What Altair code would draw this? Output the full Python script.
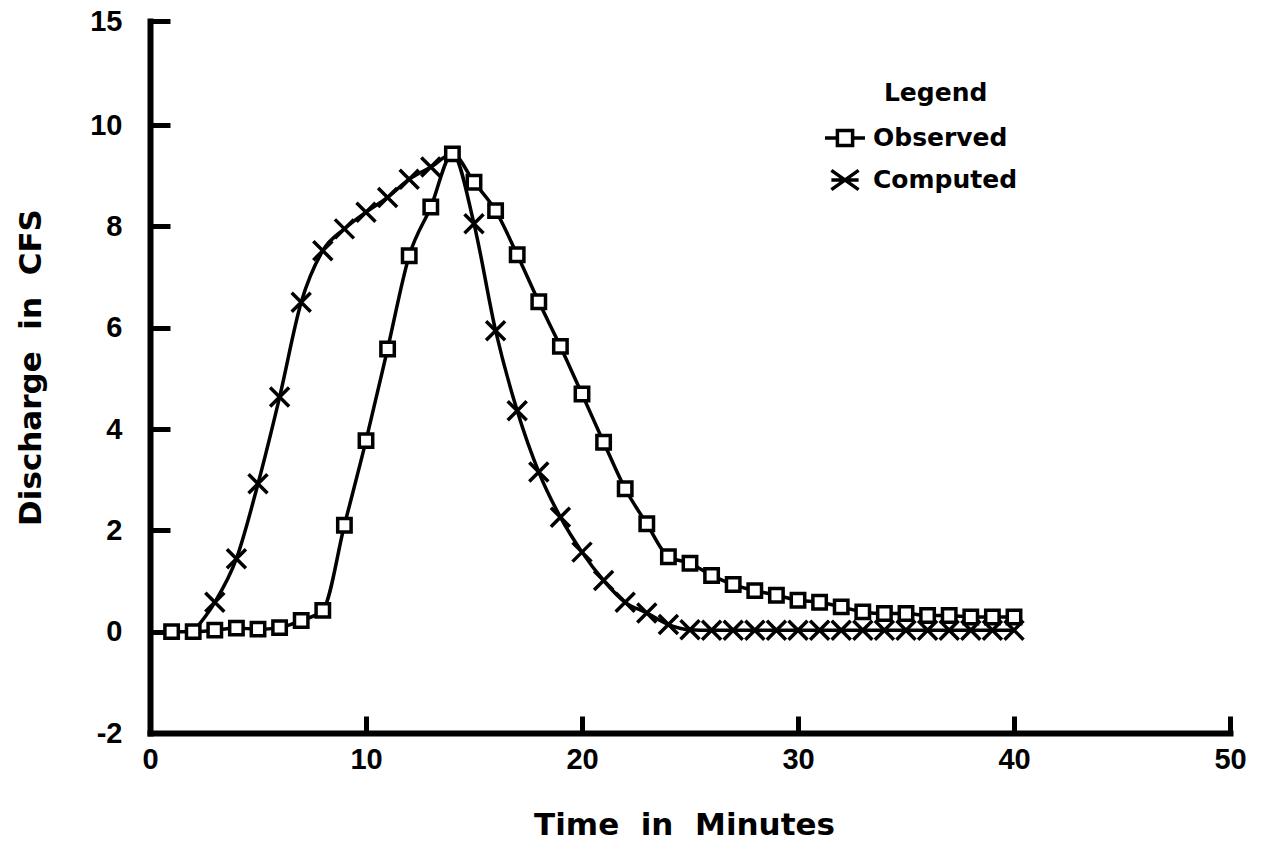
import altair as alt
import pandas as pd

# ---- data ----
obs_t = list(range(1, 41))
observed = [0.00, 0.00, 0.03, 0.07, 0.05, 0.08, 0.22, 0.42, 2.10, 3.77,
            5.58, 7.42, 8.38, 9.43, 8.87, 8.31, 7.44, 6.51, 5.63, 4.69,
            3.74, 2.82, 2.13, 1.48, 1.35, 1.11, 0.93, 0.81, 0.72, 0.62,
            0.58, 0.49, 0.39, 0.36, 0.36, 0.32, 0.32, 0.29, 0.29, 0.29]

comp_t = list(range(2, 41))
computed = [0.00, 0.58, 1.44, 2.92, 4.63, 6.50, 7.52, 7.95, 8.28, 8.57,
            8.93, 9.17, 9.43, 8.05, 5.94, 4.36, 3.15, 2.26, 1.57, 1.01,
            0.58, 0.37, 0.14, 0.04, 0.03, 0.03, 0.03, 0.03, 0.03, 0.03,
            0.03, 0.03, 0.03, 0.03, 0.03, 0.03, 0.03, 0.03, 0.03]

series_names = ["Observed", "Computed"]
x_ticks = [0, 10, 20, 30, 40, 50]
y_ticks = [-2, 0, 2, 4, 6, 8, 10, 15]

obs_df = pd.DataFrame({"t": obs_t, "v": observed, "series": "Observed"})
comp_df = pd.DataFrame({"t": comp_t, "v": computed, "series": "Computed"})
all_df = pd.concat([obs_df, comp_df], ignore_index=True)
leg_df = pd.DataFrame({"series": series_names})

W, H = 1080, 712
LAB_FONT = "Liberation Sans"
TXT_FONT = "DejaVu Sans"

X_SCALE = alt.Scale(domain=[0, 50], nice=False, zero=False)
# broken axis: -2..10 linear, 10..15 compressed
Y_SCALE = alt.Scale(domain=[-2, 10, 15], range=[H, 104, 0], nice=False, zero=False)

x_main = alt.X(
    "t:Q", scale=X_SCALE, title="Time\u00a0\u00a0in\u00a0\u00a0Minutes",
    axis=alt.Axis(orient="bottom", values=x_ticks, ticks=False, tickSize=0,
                  domain=True, domainColor="black", domainWidth=6, domainCap="square",
                  labelFont=LAB_FONT, labelFontSize=29, labelFontWeight="bold",
                  labelColor="black", labelPadding=12, labelFlush=False, grid=False,
                  titleFont=TXT_FONT, titleFontSize=31, titleFontWeight="bold",
                  titleColor="black", titlePadding=36, titleX=534))
y_main = alt.Y(
    "v:Q", scale=Y_SCALE, title="Discharge\u00a0\u00a0in\u00a0\u00a0CFS",
    axis=alt.Axis(orient="left", values=y_ticks, ticks=False, tickSize=0,
                  domain=True, domainColor="black", domainWidth=6, domainCap="square",
                  labelFont=LAB_FONT, labelFontSize=29, labelFontWeight="bold",
                  labelColor="black", labelPadding=28, labelFlush=False, grid=False,
                  labelExpr="'' + datum.value",
                  titleFont=TXT_FONT, titleFontSize=31, titleFontWeight="bold",
                  titleColor="black", titlePadding=42, titleY=346))

x_tickaxis = alt.X(
    "t:Q", scale=X_SCALE, title=None,
    axis=alt.Axis(orient="top", offset=-H, values=x_ticks[1:], ticks=True, tickSize=17,
                  tickWidth=5, tickColor="black", labels=False, domain=False, grid=False))
y_tickaxis = alt.Y(
    "v:Q", scale=Y_SCALE, title=None,
    axis=alt.Axis(orient="right", offset=-W, values=y_ticks[1:], ticks=True, tickSize=20,
                  tickWidth=5, tickColor="black", labels=False, domain=False, grid=False))

lines = alt.Chart(all_df).mark_line(
    color="black", strokeWidth=3.5, interpolate="monotone"
).encode(x=x_main, y=y_main, detail="series:N", order="t:Q")

x_marks = alt.Chart(comp_df).transform_filter(
    "datum.t >= 3 && datum.t != 14"
).mark_point(
    shape="M-1,-1L1,1M-1,1L1,-1", size=361, filled=False, color="black",
    strokeWidth=3.5, opacity=1
).encode(x=x_tickaxis, y=y_tickaxis)

squares = alt.Chart(obs_df).mark_point(
    shape="square", size=180, fill="white", stroke="black", strokeWidth=3.5,
    opacity=1, fillOpacity=1
).encode(x=alt.X("t:Q", scale=X_SCALE, axis=None),
         y=alt.Y("v:Q", scale=Y_SCALE, axis=None))

p_obs = "M-1,0H-0.38M-0.38,-0.38H0.38V0.38H-0.38ZM0.38,0H1"
p_comp = "M-0.68,-0.48L0.68,0.48M-0.68,0.48L0.68,-0.48M-0.68,0H0.68"

legend_layer = alt.Chart(leg_df).mark_point(
    opacity=0, filled=False, color="black", strokeWidth=3.5
).encode(
    shape=alt.Shape(
        "series:N",
        scale=alt.Scale(domain=series_names, range=[p_obs, p_comp]),
        legend=alt.Legend(
            title="\u200b\u00a0\u00a0\u00a0\u00a0\u00a0\u00a0\u00a0Legend",
            orient="none", legendX=673, legendY=60,
            symbolSize=1600, symbolStrokeWidth=3.5, symbolStrokeColor="black",
            symbolOpacity=1, labelFont=TXT_FONT, labelFontSize=25,
            labelFontWeight="bold", labelColor="black", labelOffset=6,
            titleFont=TXT_FONT, titleFontSize=25, titleFontWeight="bold",
            titleColor="black", titleAnchor="start", titlePadding=10,
            rowPadding=5, padding=0))
)

chart = alt.layer(lines, x_marks, squares, legend_layer).resolve_axis(
    x="independent", y="independent"
).properties(
    width=W, height=H,
    autosize=alt.AutoSizeParams(type="none"),
    padding={"left": 150, "top": 21, "right": 33, "bottom": 117},
    background="white",
).configure_view(stroke=None)

chart.save("out.html", embed_options={"renderer": "svg", "actions": False})
